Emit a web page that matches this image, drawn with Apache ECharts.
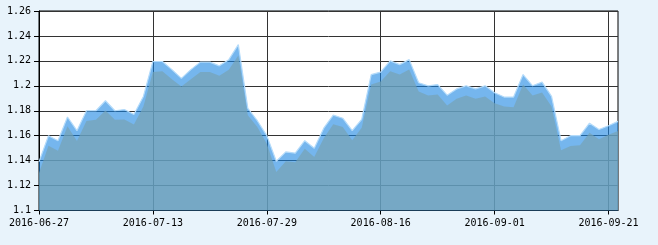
<!DOCTYPE html>
<html>
<head>
<meta charset="utf-8">
<script src="https://cdn.jsdelivr.net/npm/echarts@6/dist/echarts.min.js"></script>
<style>
html,body{margin:0;padding:0;background:#e8f3fb;}
#chart{width:658px;height:245px;}
</style>
</head>
<body>
<div id="chart"></div>
<script>
var dates = [
'2016-06-27','2016-06-28','2016-06-29','2016-06-30','2016-07-01',
'2016-07-04','2016-07-05','2016-07-06','2016-07-07','2016-07-08',
'2016-07-11','2016-07-12','2016-07-13','2016-07-14','2016-07-15',
'2016-07-18','2016-07-19','2016-07-20','2016-07-21','2016-07-22',
'2016-07-25','2016-07-26','2016-07-27','2016-07-28','2016-07-29',
'2016-08-01','2016-08-02','2016-08-03','2016-08-04','2016-08-05',
'2016-08-08','2016-08-09','2016-08-10','2016-08-11','2016-08-12',
'2016-08-15','2016-08-16','2016-08-17','2016-08-18','2016-08-19',
'2016-08-22','2016-08-23','2016-08-24','2016-08-25','2016-08-26',
'2016-08-29','2016-08-30','2016-08-31','2016-09-01','2016-09-02',
'2016-09-05','2016-09-06','2016-09-07','2016-09-08','2016-09-09',
'2016-09-12','2016-09-13','2016-09-14',
'2016-09-19','2016-09-20','2016-09-21','2016-09-22'
];
var upperValues = [
1.139,1.160,1.156,1.175,1.164,1.180,1.180,1.188,1.180,1.181,1.177,
1.1915,1.2195,1.2195,1.213,1.206,1.213,1.219,1.219,1.216,1.221,
1.233,1.182,1.172,1.160,1.1395,1.147,1.146,1.156,1.150,1.166,
1.1765,1.174,1.164,1.173,1.209,1.211,1.220,1.217,1.221,1.2025,
1.200,1.201,1.1925,1.1975,1.200,1.1975,1.200,1.1945,1.191,1.191,
1.209,1.200,1.203,1.1915,1.156,1.160,1.160,1.170,1.165,1.168,1.1715
];
var lowerValues = [
1.130,1.152,1.148,1.1675,1.1557,1.1717,1.1728,1.1803,1.1728,1.173,1.169,
1.1835,1.211,1.2117,1.2053,1.1995,1.2053,1.211,1.211,1.208,1.2128,
1.2243,1.1763,1.1669,1.1536,1.1309,1.1395,1.1387,1.1496,1.1429,1.158,
1.1691,1.1669,1.1563,1.1664,1.2011,1.2035,1.2117,1.2091,1.2131,1.1955,
1.1923,1.1931,1.1843,1.1896,1.1923,1.1896,1.1915,1.1861,1.1835,1.1829,
1.2011,1.1923,1.1947,1.1835,1.1483,1.1517,1.1523,1.1624,1.1571,1.1608,1.1637
];
var yMin = 1.1, yMax = 1.26, yStep = 0.02;

var chart = echarts.init(document.getElementById('chart'));
var fontFam = 'DejaVu Sans Mono';
chart.setOption({
  animation: false,
  backgroundColor: '#e8f3fb',
  grid: {left: 39, right: 40, top: 11, bottom: 34.5, show: true, backgroundColor: '#ffffff', borderColor: '#000', borderWidth: 1},
  xAxis: {
    type: 'category', data: dates, boundaryGap: false,
    axisLine: {lineStyle: {color: '#000', width: 1}},
    axisTick: {interval: 11, length: 4, lineStyle: {color: '#000'}},
    axisLabel: {interval: 11, color: '#000', fontFamily: fontFam, fontSize: 10, margin: 8},
    splitLine: {show: true, interval: 11, lineStyle: {color: '#333', width: 1}}
  },
  yAxis: {
    type: 'value', min: yMin, max: yMax, interval: yStep,
    axisLine: {show: true, lineStyle: {color: '#000', width: 1}},
    axisTick: {show: true, length: 5, lineStyle: {color: '#000'}},
    axisLabel: {color: '#000', fontFamily: fontFam, fontSize: 10, margin: 8},
    splitLine: {show: true, lineStyle: {color: '#333', width: 1}}
  },
  series: [
    {type: 'line', data: upperValues, symbol: 'none', smooth: false,
     lineStyle: {color: '#b4dbfa', width: 1.2},
     areaStyle: {color: 'rgba(25,133,227,0.6)', opacity: 1, origin: 'start'}},
    {type: 'line', data: lowerValues, symbol: 'none', smooth: false,
     lineStyle: {width: 0},
     areaStyle: {color: 'rgba(118,163,179,0.7)', opacity: 1, origin: 'start'}}
  ]
});
</script>
</body>
</html>
